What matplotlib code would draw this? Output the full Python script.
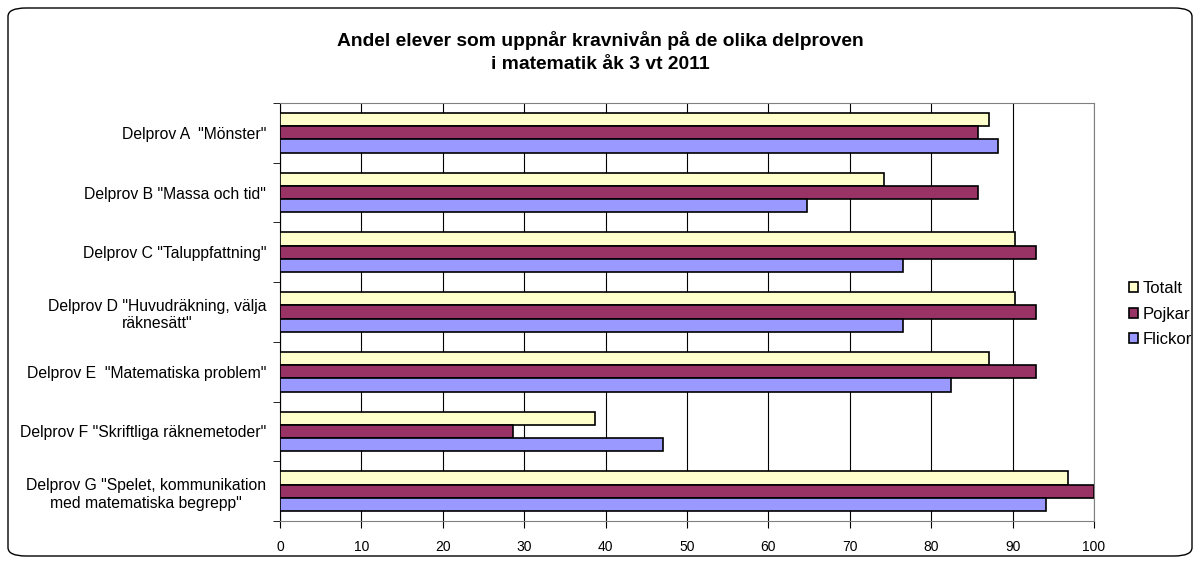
import matplotlib
matplotlib.use("Agg")
import matplotlib.pyplot as plt
import numpy as np
from matplotlib.patches import FancyBboxPatch

plt.rcParams['font.family'] = ['Liberation Sans', 'DejaVu Sans']

categories = [
    'Delprov A  "Mönster"',
    'Delprov B "Massa och tid"',
    'Delprov C "Taluppfattning"',
    'Delprov D "Huvudräkning, välja\nräknesätt"',
    'Delprov E  "Matematiska problem"',
    'Delprov F "Skriftliga räknemetoder"',
    'Delprov G "Spelet, kommunikation\nmed matematiska begrepp"',
]
totalt = [87.1, 74.2, 90.3, 90.3, 87.1, 38.7, 96.8]
pojkar = [85.7, 85.7, 92.9, 92.9, 92.9, 28.6, 100.0]
flickor = [88.2, 64.7, 76.5, 76.5, 82.4, 47.1, 94.1]
series_names = ['Totalt', 'Pojkar', 'Flickor']
colors = ['#FFFFCC', '#993366', '#9999FF']
xticks = list(range(0, 101, 10))

fig = plt.figure(figsize=(12, 5.64), dpi=100)
ax = fig.add_axes([280/1200, 1-521/564, (1094-280)/1200, (521-103)/564])

n = len(categories)
pos = np.arange(n)
h = 1/4.5
series = [totalt, pojkar, flickor]
for i, (vals, c, name) in enumerate(zip(series, colors, series_names)):
    ax.barh(pos + (i-1)*h, vals, height=h, color=c, edgecolor='black',
            linewidth=1.2, label=name, zorder=3)

ax.set_xlim(0, 100)
ax.set_ylim(n-0.5, -0.5)
ax.set_xticks(xticks)
ax.set_xticklabels([str(t) for t in xticks], fontsize=10)
ax.set_yticks(pos)
ax.set_yticklabels(categories, fontsize=11.3, ha='right', multialignment='center',
                   linespacing=1.25)
ax.tick_params(axis='y', which='major', length=0, pad=10)
ax.set_yticks(np.arange(-0.5, n, 1), minor=True)
ax.tick_params(axis='y', which='minor', length=5, direction='out', color='black')
ax.tick_params(axis='x', length=5, direction='out', color='black', pad=9)
ax.grid(axis='x', color='black', linewidth=0.8, zorder=0)
for s in ['top', 'right']:
    ax.spines[s].set_color('#808080')
ax.spines['left'].set_color('black')
ax.spines['bottom'].set_color('#808080')

fig.text(0.5, 1-52/564, 'Andel elever som uppnår kravnivån på de olika delproven\ni matematik åk 3 vt 2011',
         ha='center', va='center', fontsize=13.9, fontweight='bold', linespacing=1.45)

leg = ax.legend(loc='center left', bbox_to_anchor=(1 + (1129-1094)/814, 0.495), frameon=False,
                fontsize=12, handlelength=0.55, handleheight=0.55, handletextpad=0.25,
                labelspacing=0.62, borderpad=0, borderaxespad=0)

border = FancyBboxPatch((8/1200, 8/564), 1184/1200, 548/564,
                        boxstyle='round,pad=0,rounding_size=0.015',
                        transform=fig.transFigure, fill=False,
                        edgecolor='black', linewidth=1.0)
fig.patches.append(border)

fig.savefig('out.png', dpi=100)
